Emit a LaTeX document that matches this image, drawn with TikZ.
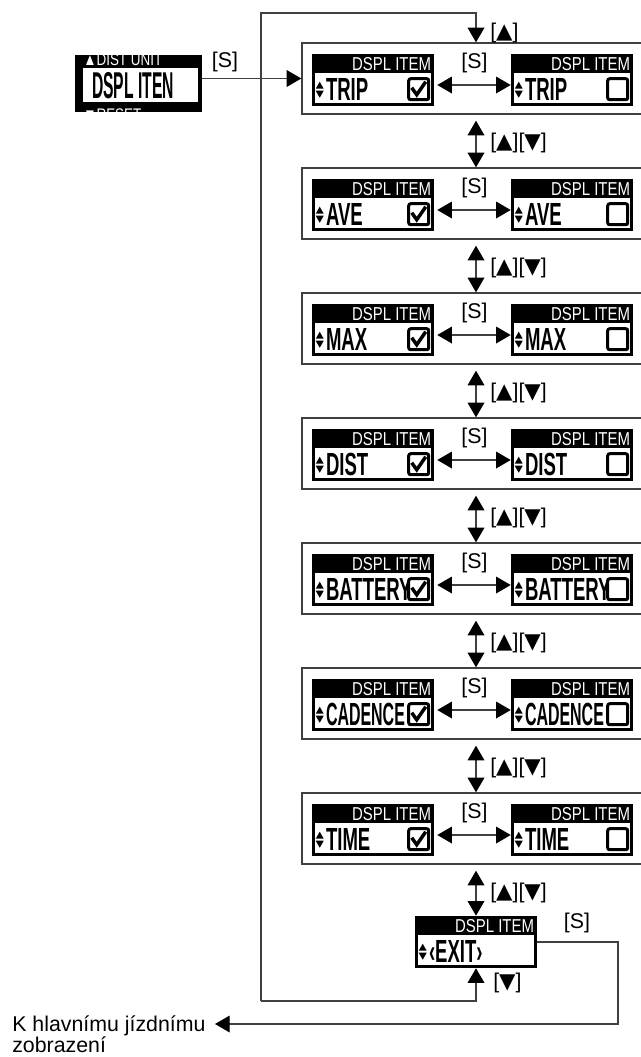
\documentclass[tikz,border=0pt]{standalone}
\usepackage{graphicx}
\usepackage{fontspec}
\setmainfont{Liberation Sans}
\newfontfamily\lcdf{Liberation Sans Bold}[FakeStretch=0.58]
\newfontfamily\hdrf{Liberation Sans}[FakeStretch=0.8]
\newfontfamily\menuf{Liberation Sans Bold}[FakeStretch=0.42]
\newfontfamily\symf{DejaVu Sans}
\newcommand\tup{{\symf ▲}}
\newcommand\tdn{{\symf ▼}}
\usetikzlibrary{arrows.meta,calc}

\tikzset{
  bigtri/.tip={Triangle[length=11pt,width=12.5pt,color=black]},
  conn/.style={draw=black!75, line width=1pt},
  arr/.style={conn, -bigtri},
  darr/.style={conn, bigtri-bigtri},
  rowframe/.style={draw=black!75, line width=1pt, minimum width=261pt, minimum height=53.25pt, inner sep=0pt},
  disp/.style={fill=black, minimum width=91.5pt, minimum height=39pt, inner sep=0pt},
  lbl/.style={font=\fontsize{16}{16}\selectfont, inner sep=0pt},
  hdr/.style={text=white, font=\hdrf\fontsize{14}{14}\selectfont, inner sep=0pt},
  lcd/.style={font=\lcdf\fontsize{24}{24}\selectfont, inner sep=0pt},
}

% name, x, y, text, checkbox (0 none, 1 checked, 2 empty)
\newcommand\lcdpanel[5]{%
  \node[disp] (#1) at (#2,#3) {};
  \fill[white] ($(#1.north west)+(3,19)$) rectangle ($(#1.south east)+(-3,-3)$);
  \node[hdr, anchor=east] at ($(#1.north east)+(-3,10)$) {DSPL ITEM};
  \fill ($(#1.north west)+(4,35)$) -- ++(8,0) -- ++(-4,-7) -- cycle;
  \fill ($(#1.north west)+(4,37)$) -- ++(8,0) -- ++(-4,7) -- cycle;
  \node[lcd, anchor=west] at ($(#1.north west)+(14,36)$) {#4};
  \ifcase#5\or
    \draw[line width=2.25pt, rounded corners=1.5pt] ($(#1.north west)+(97,25)$) rectangle ($(#1.north west)+(117,46)$);
    \draw[line width=2.6pt] ($(#1.north west)+(100,34)$) -- ++(5,7) -- ++(9,-13);
  \or
    \draw[line width=2.25pt, rounded corners=1.5pt] ($(#1.north west)+(97,25)$) rectangle ($(#1.north west)+(117,46)$);
  \fi
}

\begin{document}
\begin{tikzpicture}[x=0.75pt, y=-0.75pt]
\useasboundingbox (0,0) rectangle (641,1057);
\clip (0,0) rectangle (641,1057);

% rows
\foreach \k/\t in {0/TRIP,1/AVE,2/MAX,3/DIST,4/BATTERY,5/{\scalebox{0.86}[1]{CADENCE}},6/TIME}{
  \pgfmathsetmacro\T{43+125*\k}
  \node[rowframe] (F\k) at (476,\T+35.5) {};
  \lcdpanel{L\k}{373}{\T+37}{\t}{1}
  \lcdpanel{R\k}{572}{\T+37}{\t}{2}
  \draw[darr] ($(L\k.east)+(3,5)$) -- ($(R\k.west)+(0,5)$);
  \node[lbl] at ($(L\k.east)!0.5!(R\k.west)+(2,-17)$) {[S]};
}

% exit panel
\lcdpanel{E}{476}{942}{‹EXIT›}{0}

% vertical double arrows
\foreach \k [evaluate=\k as \n using int(\k+1)] in {0,...,5}{
  \draw[darr] ($(F\k.south)+(0,6)$) -- (F\n.north);
  \node[lbl, anchor=west] at ($(F\k.south)+(14,28)$) {[\tup][\tdn]};
}
\draw[darr] ($(F6.south)+(0,6)$) -- (E.north);
\node[lbl, anchor=west] at ($(F6.south)+(14,28)$) {[\tup][\tdn]};

% menu box
\node[fill=black, minimum width=95.25pt, minimum height=42.75pt, inner sep=0pt] (M) at (138.5,83.5) {};
\fill[white] ($(M.north west)+(8,13)$) rectangle ($(M.south east)+(-4,-10)$);
\node[font=\menuf\fontsize{28}{28}\selectfont, inner sep=0pt, anchor=west] (MT) at ($(M.north west)+(17,31)$) {DSPL ITEN};
\begin{scope}
  \clip (M.north west) rectangle (M.south east);
  \node[hdr, font=\hdrf\fontsize{12.6}{12.6}\selectfont, anchor=base west] (MA) at (83,65) {▲DIST UNIT};
  \node[hdr, font=\hdrf\fontsize{12.6}{12.6}\selectfont, anchor=base west] (MB) at (83,120) {▼RESET};
\end{scope}
\node[lbl] (MS) at (225,62) {[S]};
\draw[arr] (F0.west -| M.east) -- (F0.west);

% loop
\coordinate (lt) at (261,13);
\coordinate (lb) at (261,1001);
\draw[arr] (lb) -- (lt) -| (F0.north);
\draw[arr] (lb) -| (E.south);
\node[lbl, anchor=west] (LU) at (490,33) {[\tup]};
\node[lbl, anchor=west] (LD) at (493,983) {[\tdn]};

% exit
\node[lbl] (ES) at (577,923) {[S]};
\coordinate (er) at (618,1024);
\coordinate (goal) at (215,1024);
\draw[arr] (E.east) -| (er) -- (goal);
\node[lbl, anchor=base west] (t1) at (12,1031) {K hlavnímu jízdnímu};
\node[lbl, anchor=base west] (t2) at (12,1052) {zobrazení};
\end{tikzpicture}
\end{document}
